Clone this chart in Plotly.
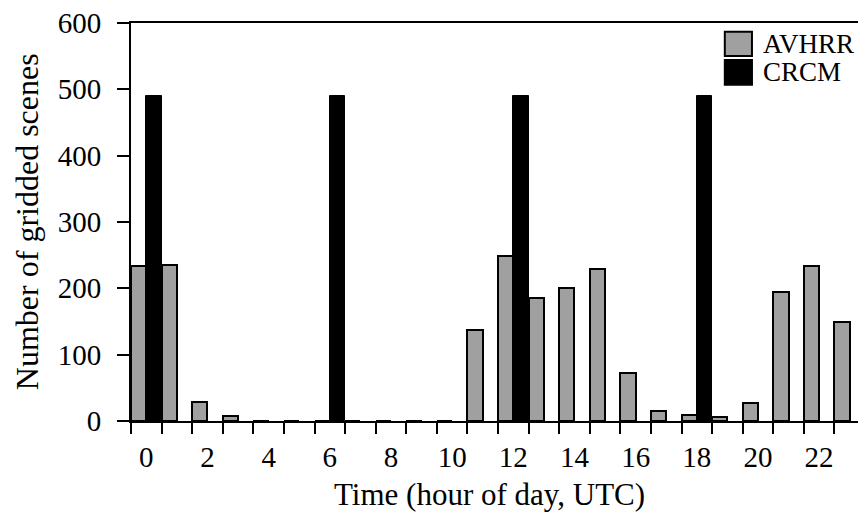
import plotly.graph_objects as go

hours = list(range(24))
avhrr = [233, 235, 29, 7, 0, 0, 0, 0, 0, 0, 0, 137, 249, 185, 200, 229, 72, 15, 9, 6, 27, 194, 233, 150]
crcm_hours = [0, 6, 12, 18]
crcm = [490, 490, 490, 490]
tick_hours = list(range(0, 24, 2))
tick_labels = [str(h) for h in tick_hours]
y_ticks = list(range(0, 601, 100))
x_title = "Time (hour of day, UTC)"
y_title = "Number of gridded scenes"

FONT = "Liberation Serif, Times New Roman, serif"
GRAY = "#a0a0a0"

fig = go.Figure()
fig.add_trace(go.Bar(x=hours, y=avhrr, name="AVHRR",
                     marker=dict(color=GRAY, line=dict(color="black", width=2))))
fig.add_trace(go.Bar(x=crcm_hours, y=crcm, name="CRCM",
                     marker=dict(color="black", line=dict(color="black", width=1))))

fig.update_layout(
    width=858, height=504,
    margin=dict(l=123, r=1, t=15, b=91),
    paper_bgcolor="white", plot_bgcolor="white",
    barmode="group", bargap=0, bargroupgap=0,
    showlegend=False,
    font=dict(family=FONT, size=29, color="black"),
)
fig.update_xaxes(
    range=[-0.5, 23.5], tickmode="array", tickvals=tick_hours, ticktext=tick_labels,
    ticks="", showgrid=False, zeroline=False,
    showline=True, linecolor="black", linewidth=2, mirror=True,
    minor=dict(tickmode="linear", tick0=-0.5, dtick=1, ticks="outside", ticklen=11,
               tickwidth=2, tickcolor="black", showgrid=False),
    tickfont=dict(size=29), ticklabelstandoff=9, ticklabeloverflow="allow",
    automargin=False,
)
fig.update_yaxes(
    range=[0, 600], tickmode="array", tickvals=y_ticks,
    ticks="outside", ticklen=12, tickwidth=2, tickcolor="black",
    showgrid=False, zeroline=False,
    showline=True, linecolor="black", linewidth=2, mirror=True,
    tickfont=dict(size=29), ticklabelstandoff=10, ticklabeloverflow="allow",
    automargin=False,
)

# axis titles as annotations (positioned like the reference)
fig.add_annotation(xref="paper", yref="paper", x=0.489, y=-0.184, text=x_title,
                   showarrow=False, xanchor="center", yanchor="middle",
                   font=dict(family=FONT, size=31, color="black"))
fig.add_annotation(xref="paper", yref="paper", x=-0.1415, y=0.5, text=y_title,
                   textangle=-90, showarrow=False, xanchor="center", yanchor="middle",
                   font=dict(family=FONT, size=32, color="black"))

# legend drawn manually (large swatches as in the reference)
legend_items = [("AVHRR", GRAY, 0.978, 0.917), ("CRCM", "black", 0.907, 0.845)]
for name, col, y1, y0 in legend_items:
    fig.add_shape(type="rect", xref="paper", yref="paper",
                  x0=0.809, x1=0.846, y0=y0, y1=y1,
                  fillcolor=col, line=dict(color="black", width=2))
    fig.add_annotation(xref="paper", yref="paper", x=0.858, y=(y0 + y1) / 2,
                       text=name, showarrow=False, xanchor="left", yanchor="middle",
                       font=dict(family=FONT, size=27, color="black"))

fig.write_html("out.html")
